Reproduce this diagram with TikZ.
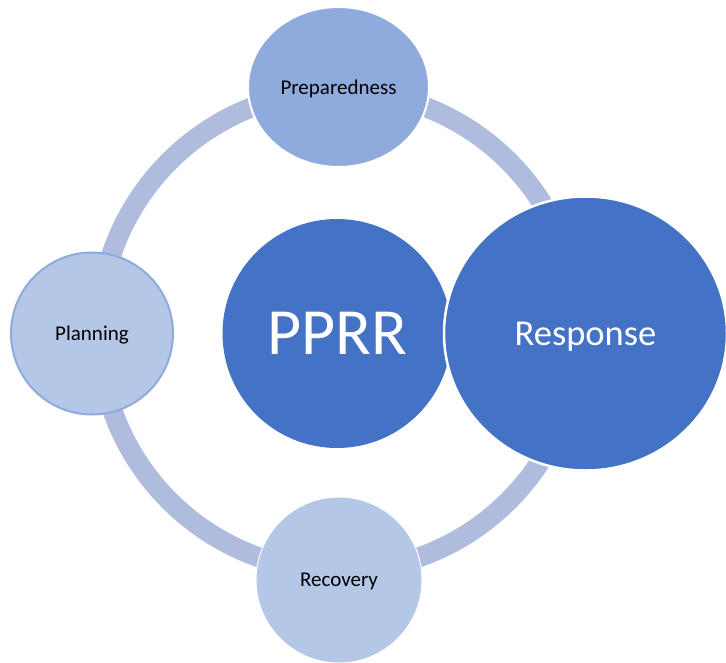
\documentclass[tikz,border=0pt]{standalone}
\usepackage{fontspec}
\setmainfont{Carlito}
\usetikzlibrary{shapes.geometric}
\definecolor{ringc}{RGB}{175,188,222}
\definecolor{midblue}{RGB}{143,170,220}
\definecolor{paleblue}{RGB}{180,199,231}
\definecolor{deepblue}{RGB}{68,114,196}
\tikzset{
  cycle ring/.style={circle, draw=ringc, line width=20pt, minimum size=480pt, inner sep=0pt},
  phase/.style={ellipse, inner sep=0pt, text depth=0pt, text=black, font=\fontsize{21}{25}\selectfont},
  core/.style={ellipse, inner sep=0pt, text depth=0pt, text=white},
}
\begin{document}
\begin{tikzpicture}[x=1pt, y=-1pt]
  \useasboundingbox (0,0) rectangle (726,662);
  % cycle ring behind the phases
  \node[cycle ring] (ring) at (339,331) {};
  % outer phases
  \node[phase, fill=midblue, draw=white, line width=2pt,
        minimum width=181pt, minimum height=160pt] (prep) at (338.5,87) {Preparedness};
  \node[phase, fill=paleblue, draw=midblue, line width=2pt,
        minimum width=162pt, minimum height=162pt] (plan) at (92,333.5) {Planning};
  \node[phase, fill=paleblue, draw=white, line width=1pt,
        minimum width=166pt, minimum height=166pt] (recov) at (339,580) {Recovery};
  % centre and highlighted phase
  \node[core, fill=deepblue, minimum width=229pt, minimum height=229pt,
        font=\fontsize{66}{70}\selectfont] (pprr) at (337,333.5) {PPRR};
  \node[core, fill=deepblue, draw=white, line width=2.5pt,
        minimum width=283pt, minimum height=274pt,
        font=\fontsize{36.5}{40}\selectfont] (resp) at (585.5,333.5) {Response};
\end{tikzpicture}
\end{document}
